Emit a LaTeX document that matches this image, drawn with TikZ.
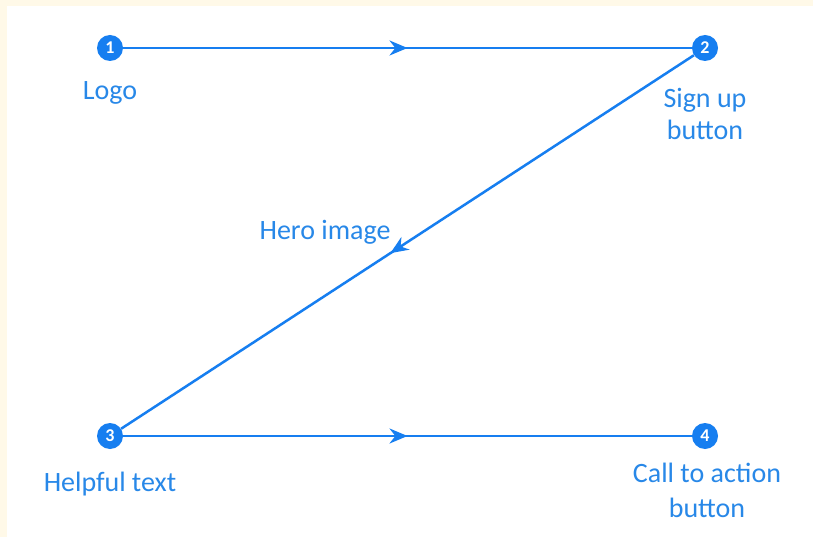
\documentclass[tikz,border=0pt]{standalone}
\usepackage{fontspec}
\setmainfont{Carlito}
\usetikzlibrary{positioning,arrows.meta,decorations.markings}

\definecolor{zblue}{RGB}{22,126,240}
\definecolor{ztext}{RGB}{40,136,232}
\definecolor{zcream}{RGB}{255,249,232}

\tikzset{
  step dot/.style={circle, fill=zblue, inner sep=0pt, minimum size=26pt,
    text=white, font=\fontsize{18}{18}\selectfont\bfseries},
  lbl/.style={text=ztext, align=center, inner sep=0pt,
    font=\fontsize{28}{32}\selectfont},
  flow/.style={zblue, line width=2.5pt,
    postaction={decorate},
    decoration={markings, mark=at position #1 with
      {\arrow{Stealth[length=18pt,width=15pt]}}}},
  flow/.default=0.5
}

\begin{document}
\begin{tikzpicture}[x=1pt, y=-1pt]
  \useasboundingbox (0,0) rectangle (813,537);
  \fill[zcream] (0,0) rectangle (813,537);
  \fill[white] (7,6) rectangle (813,537);

  % the four stops of the Z
  \node[step dot] (n1) at (110,48) {1};
  \node[step dot] (n2) at (705,48) {2};
  \node[step dot] (n3) at (110,436) {3};
  \node[step dot] (n4) at (705,436) {4};

  \node[lbl, below=20.5pt of n1] (l1) {Logo};
  \node[lbl, below=27pt of n2] (l2) {Sign up\\button};
  \node[lbl, below=22.5pt of n3] (l3) {Helpful text};
  \node[lbl, below=14pt of n4, xshift=2pt] (l4) {Call to action\\[3pt]button};
  \node[lbl] (hero) at (325,232) {Hero image};

  \draw[flow] (n1) -- (n2);
  \draw[flow=0.53] (n2) -- (n3);
  \draw[flow] (n3) -- (n4);
\end{tikzpicture}
\end{document}
